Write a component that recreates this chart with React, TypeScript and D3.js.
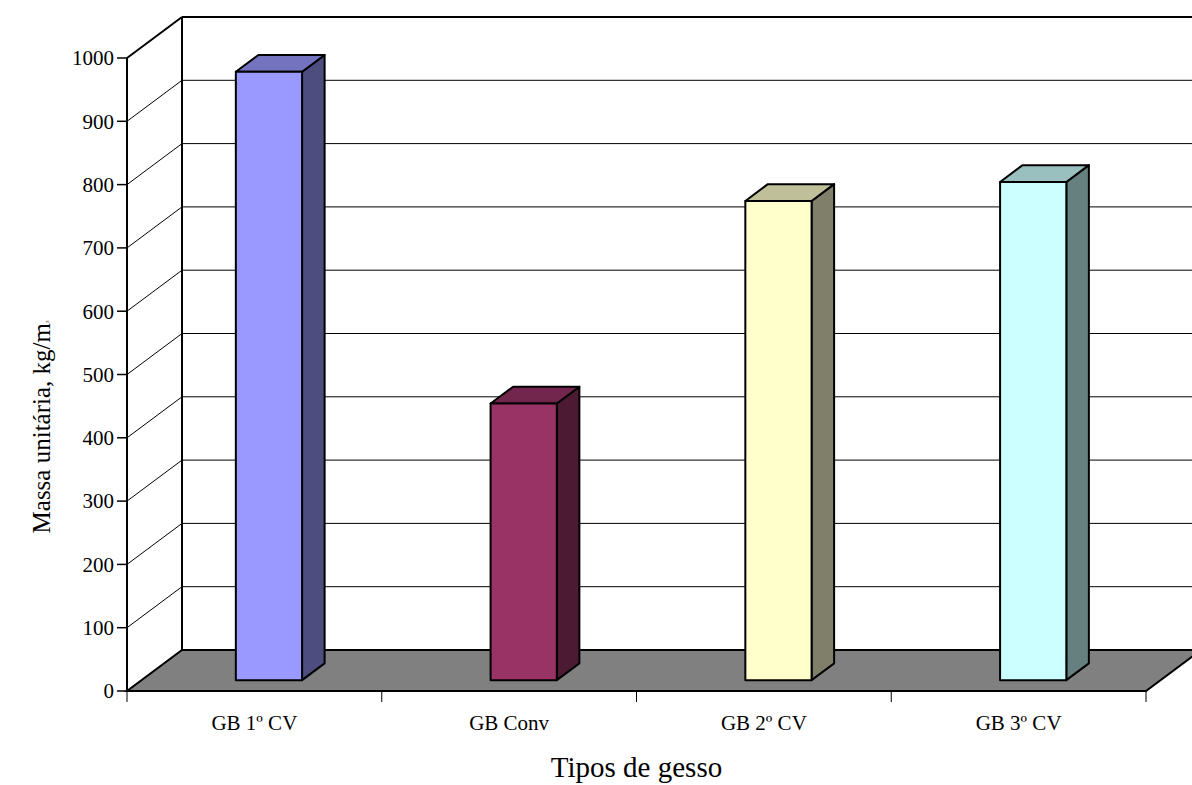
import React from "react";
import * as d3 from "d3";

const categories = ["GB 1º CV", "GB Conv", "GB 2º CV", "GB 3º CV"];
const values = [961, 437, 757, 787];
const yTicks = [0, 100, 200, 300, 400, 500, 600, 700, 800, 900, 1000];
const frontColors = ["#9999FF", "#993366", "#FFFFCC", "#CCFFFF"];
const topColors = ["#7373BF", "#73264D", "#BFBF99", "#99BFBF"];
const sideColors = ["#4D4D80", "#4D1A33", "#80806A", "#668080"];

const W = 1192;
const H = 785;
const FONT = "'Liberation Serif', 'Times New Roman', serif";

export default function App() {
  const left = 127;
  const right = 1146;
  const y = d3.scaleLinear().domain([0, 1000]).range([691, 58]);
  const x = d3.scaleBand<string>().domain(categories).range([left, right]).padding(0);
  const DX = 55;
  const DY = -41;
  const f0 = 0.265;
  const fd = 0.41;
  const bw = x.bandwidth() * 0.26;

  const gridVals = yTicks.filter((v) => v > 0 && v < 1000);
  const backTop = y(1000) + DY;
  const backBottom = y(0) + DY;

  const floorPts = [
    [left, y(0)],
    [right, y(0)],
    [right + DX, y(0) + DY],
    [left + DX, y(0) + DY],
  ];

  return (
    <svg
      width={W}
      height={H}
      style={{ position: "absolute", left: 0, top: 0, background: "#fff" }}
    >
      {/* back wall gridlines */}
      {gridVals.map((v) => (
        <line key={"bg" + v} x1={left + DX} x2={W + 20} y1={y(v) + DY} y2={y(v) + DY} stroke="#000" strokeWidth={1} />
      ))}
      {/* left wall gridlines */}
      {gridVals.map((v) => (
        <line key={"lg" + v} x1={left} x2={left + DX} y1={y(v)} y2={y(v) + DY} stroke="#000" strokeWidth={1} />
      ))}
      {/* back wall top & left edges */}
      <line x1={left + DX} x2={W + 20} y1={backTop} y2={backTop} stroke="#000" strokeWidth={2} />
      <line x1={left + DX} x2={left + DX} y1={backTop} y2={backBottom} stroke="#000" strokeWidth={2} />
      <line x1={left} x2={left + DX} y1={y(1000)} y2={backTop} stroke="#000" strokeWidth={2} />
      {/* left axis */}
      <line x1={left} x2={left} y1={y(1000)} y2={y(0)} stroke="#000" strokeWidth={2} />
      {/* floor */}
      <polygon points={floorPts.map((p) => p.join(",")).join(" ")} fill="#808080" stroke="#000" strokeWidth={2} />

      {/* y ticks and labels */}
      {yTicks.map((v) => (
        <g key={"yt" + v}>
          <line x1={left - 10} x2={left} y1={y(v)} y2={y(v)} stroke="#000" strokeWidth={1.5} />
          <text x={left - 13} y={y(v)} dy="0.35em" textAnchor="end" fontFamily={FONT} fontSize={21} fill="#000">
            {v}
          </text>
        </g>
      ))}

      {/* x ticks */}
      {[...categories.map((c) => x(c) as number), right].map((px, i) => (
        <line key={"xt" + i} x1={px} x2={px} y1={y(0)} y2={y(0) + 11} stroke="#000" strokeWidth={1} />
      ))}

      {/* bars */}
      {categories.map((c, i) => {
        const xc = (x(c) as number) + x.bandwidth() / 2 + DX * f0;
        const x0 = xc - bw / 2;
        const x1 = xc + bw / 2;
        const yb = y(0) + DY * f0;
        const yt = y(values[i]) + DY * f0;
        const sdx = DX * fd;
        const sdy = DY * fd;
        return (
          <g key={"bar" + c} stroke="#000" strokeWidth={2} strokeLinejoin="round">
            <polygon
              points={`${x1},${yt} ${x1 + sdx},${yt + sdy} ${x1 + sdx},${yb + sdy} ${x1},${yb}`}
              fill={sideColors[i]}
            />
            <polygon
              points={`${x0},${yt} ${x0 + sdx},${yt + sdy} ${x1 + sdx},${yt + sdy} ${x1},${yt}`}
              fill={topColors[i]}
            />
            <rect x={x0} y={yt} width={bw} height={yb - yt} fill={frontColors[i]} />
          </g>
        );
      })}

      {/* category labels */}
      {categories.map((c) => (
        <text
          key={"cl" + c}
          x={(x(c) as number) + x.bandwidth() / 2}
          y={730}
          textAnchor="middle"
          fontFamily={FONT}
          fontSize={21}
          fill="#000"
        >
          {c}
        </text>
      ))}

      {/* axis titles */}
      <text x={(left + right) / 2} y={777} textAnchor="middle" fontFamily={FONT} fontSize={29} fill="#000">
        Tipos de gesso
      </text>
      <text
        transform="translate(50,427) rotate(-90)"
        textAnchor="middle"
        fontFamily={FONT}
        fontSize={25}
        fill="#000"
      >
        Massa unitária, kg/m
        <tspan fontSize={5} dy={-1}>3</tspan>
      </text>
    </svg>
  );
}
